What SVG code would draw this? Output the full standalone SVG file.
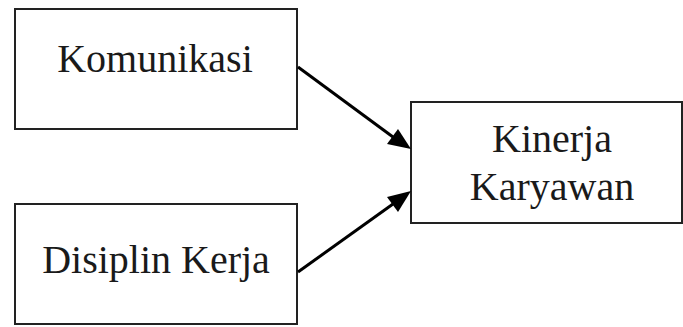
<svg xmlns="http://www.w3.org/2000/svg" width="683" height="327" viewBox="0 0 683 327">
<defs>
<style>
.box{fill:#fff;stroke:#222;stroke-width:2}
.lbl{font-family:"Liberation Serif","Times New Roman",serif;font-size:40px;fill:#1a1a1a;text-anchor:middle}
.con{stroke:#000;stroke-width:3;fill:none}
</style>
<marker id="ah" markerWidth="10" markerHeight="10" refX="9" refY="5" orient="auto" markerUnits="userSpaceOnUse" viewBox="0 0 10 10">
<path d="M0,0 L10,5 L0,10 Z" fill="#000"/>
</marker>
</defs>
<rect width="683" height="327" fill="#fff"/>
<g id="komunikasi">
<rect class="box" x="15" y="9" width="282" height="120"/>
<text class="lbl" x="155" y="72">Komunikasi</text>
</g>
<g id="disiplin">
<rect class="box" x="15" y="204" width="282" height="120"/>
<text class="lbl" x="156" y="273">Disiplin Kerja</text>
</g>
<g id="kinerja">
<rect class="box" x="411" y="102" width="271" height="121"/>
<text class="lbl" x="552" y="152">Kinerja</text>
<text class="lbl" x="552" y="200">Karyawan</text>
</g>
<g id="connectors">
<line class="con" x1="298" y1="67" x2="393" y2="137"/>
<path d="M411,149 L387,144 L398,129 Z" fill="#000"/>
<line class="con" x1="298" y1="272" x2="393" y2="204"/>
<path d="M411,191 L398,212 L387,197 Z" fill="#000"/>
</g>
</svg>
